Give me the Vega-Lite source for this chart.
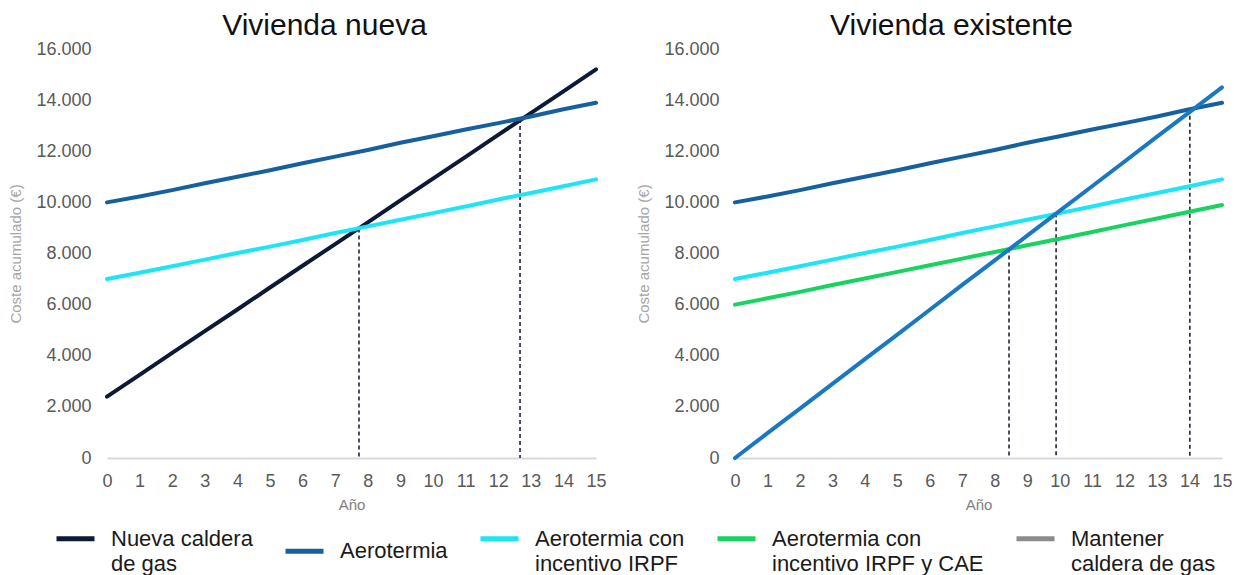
{
  "$schema": "https://vega.github.io/schema/vega-lite/v6.json",
  "background": "white",
  "padding": {"left": 8, "top": 11, "right": 5, "bottom": 0},
  "datasets": {
    "costes": [
      {"panel": "nueva", "series": "Nueva caldera de gas", "year": 0, "cost": 2400},
      {"panel": "nueva", "series": "Nueva caldera de gas", "year": 1, "cost": 3250},
      {"panel": "nueva", "series": "Nueva caldera de gas", "year": 2, "cost": 4110},
      {"panel": "nueva", "series": "Nueva caldera de gas", "year": 3, "cost": 4960},
      {"panel": "nueva", "series": "Nueva caldera de gas", "year": 4, "cost": 5810},
      {"panel": "nueva", "series": "Nueva caldera de gas", "year": 5, "cost": 6670},
      {"panel": "nueva", "series": "Nueva caldera de gas", "year": 6, "cost": 7520},
      {"panel": "nueva", "series": "Nueva caldera de gas", "year": 7, "cost": 8370},
      {"panel": "nueva", "series": "Nueva caldera de gas", "year": 8, "cost": 9220},
      {"panel": "nueva", "series": "Nueva caldera de gas", "year": 9, "cost": 10080},
      {"panel": "nueva", "series": "Nueva caldera de gas", "year": 10, "cost": 10930},
      {"panel": "nueva", "series": "Nueva caldera de gas", "year": 11, "cost": 11780},
      {"panel": "nueva", "series": "Nueva caldera de gas", "year": 12, "cost": 12640},
      {"panel": "nueva", "series": "Nueva caldera de gas", "year": 13, "cost": 13490},
      {"panel": "nueva", "series": "Nueva caldera de gas", "year": 14, "cost": 14340},
      {"panel": "nueva", "series": "Nueva caldera de gas", "year": 15, "cost": 15200},
      {"panel": "nueva", "series": "Aerotermia", "year": 0, "cost": 10000},
      {"panel": "nueva", "series": "Aerotermia", "year": 1, "cost": 10230},
      {"panel": "nueva", "series": "Aerotermia", "year": 2, "cost": 10480},
      {"panel": "nueva", "series": "Aerotermia", "year": 3, "cost": 10750},
      {"panel": "nueva", "series": "Aerotermia", "year": 4, "cost": 11000},
      {"panel": "nueva", "series": "Aerotermia", "year": 5, "cost": 11260},
      {"panel": "nueva", "series": "Aerotermia", "year": 6, "cost": 11530},
      {"panel": "nueva", "series": "Aerotermia", "year": 7, "cost": 11790},
      {"panel": "nueva", "series": "Aerotermia", "year": 8, "cost": 12050},
      {"panel": "nueva", "series": "Aerotermia", "year": 9, "cost": 12330},
      {"panel": "nueva", "series": "Aerotermia", "year": 10, "cost": 12590},
      {"panel": "nueva", "series": "Aerotermia", "year": 11, "cost": 12850},
      {"panel": "nueva", "series": "Aerotermia", "year": 12, "cost": 13100},
      {"panel": "nueva", "series": "Aerotermia", "year": 13, "cost": 13360},
      {"panel": "nueva", "series": "Aerotermia", "year": 14, "cost": 13640},
      {"panel": "nueva", "series": "Aerotermia", "year": 15, "cost": 13900},
      {"panel": "nueva", "series": "Aerotermia con incentivo IRPF", "year": 0, "cost": 7000},
      {"panel": "nueva", "series": "Aerotermia con incentivo IRPF", "year": 1, "cost": 7250},
      {"panel": "nueva", "series": "Aerotermia con incentivo IRPF", "year": 2, "cost": 7500},
      {"panel": "nueva", "series": "Aerotermia con incentivo IRPF", "year": 3, "cost": 7760},
      {"panel": "nueva", "series": "Aerotermia con incentivo IRPF", "year": 4, "cost": 8020},
      {"panel": "nueva", "series": "Aerotermia con incentivo IRPF", "year": 5, "cost": 8270},
      {"panel": "nueva", "series": "Aerotermia con incentivo IRPF", "year": 6, "cost": 8530},
      {"panel": "nueva", "series": "Aerotermia con incentivo IRPF", "year": 7, "cost": 8800},
      {"panel": "nueva", "series": "Aerotermia con incentivo IRPF", "year": 8, "cost": 9060},
      {"panel": "nueva", "series": "Aerotermia con incentivo IRPF", "year": 9, "cost": 9320},
      {"panel": "nueva", "series": "Aerotermia con incentivo IRPF", "year": 10, "cost": 9580},
      {"panel": "nueva", "series": "Aerotermia con incentivo IRPF", "year": 11, "cost": 9840},
      {"panel": "nueva", "series": "Aerotermia con incentivo IRPF", "year": 12, "cost": 10110},
      {"panel": "nueva", "series": "Aerotermia con incentivo IRPF", "year": 13, "cost": 10370},
      {"panel": "nueva", "series": "Aerotermia con incentivo IRPF", "year": 14, "cost": 10630},
      {"panel": "nueva", "series": "Aerotermia con incentivo IRPF", "year": 15, "cost": 10900},
      {"panel": "existente", "series": "Aerotermia", "year": 0, "cost": 10000},
      {"panel": "existente", "series": "Aerotermia", "year": 1, "cost": 10230},
      {"panel": "existente", "series": "Aerotermia", "year": 2, "cost": 10480},
      {"panel": "existente", "series": "Aerotermia", "year": 3, "cost": 10750},
      {"panel": "existente", "series": "Aerotermia", "year": 4, "cost": 11000},
      {"panel": "existente", "series": "Aerotermia", "year": 5, "cost": 11260},
      {"panel": "existente", "series": "Aerotermia", "year": 6, "cost": 11530},
      {"panel": "existente", "series": "Aerotermia", "year": 7, "cost": 11790},
      {"panel": "existente", "series": "Aerotermia", "year": 8, "cost": 12050},
      {"panel": "existente", "series": "Aerotermia", "year": 9, "cost": 12330},
      {"panel": "existente", "series": "Aerotermia", "year": 10, "cost": 12590},
      {"panel": "existente", "series": "Aerotermia", "year": 11, "cost": 12850},
      {"panel": "existente", "series": "Aerotermia", "year": 12, "cost": 13100},
      {"panel": "existente", "series": "Aerotermia", "year": 13, "cost": 13360},
      {"panel": "existente", "series": "Aerotermia", "year": 14, "cost": 13640},
      {"panel": "existente", "series": "Aerotermia", "year": 15, "cost": 13900},
      {"panel": "existente", "series": "Aerotermia con incentivo IRPF", "year": 0, "cost": 7000},
      {"panel": "existente", "series": "Aerotermia con incentivo IRPF", "year": 1, "cost": 7250},
      {"panel": "existente", "series": "Aerotermia con incentivo IRPF", "year": 2, "cost": 7500},
      {"panel": "existente", "series": "Aerotermia con incentivo IRPF", "year": 3, "cost": 7760},
      {"panel": "existente", "series": "Aerotermia con incentivo IRPF", "year": 4, "cost": 8020},
      {"panel": "existente", "series": "Aerotermia con incentivo IRPF", "year": 5, "cost": 8270},
      {"panel": "existente", "series": "Aerotermia con incentivo IRPF", "year": 6, "cost": 8530},
      {"panel": "existente", "series": "Aerotermia con incentivo IRPF", "year": 7, "cost": 8800},
      {"panel": "existente", "series": "Aerotermia con incentivo IRPF", "year": 8, "cost": 9060},
      {"panel": "existente", "series": "Aerotermia con incentivo IRPF", "year": 9, "cost": 9320},
      {"panel": "existente", "series": "Aerotermia con incentivo IRPF", "year": 10, "cost": 9580},
      {"panel": "existente", "series": "Aerotermia con incentivo IRPF", "year": 11, "cost": 9840},
      {"panel": "existente", "series": "Aerotermia con incentivo IRPF", "year": 12, "cost": 10110},
      {"panel": "existente", "series": "Aerotermia con incentivo IRPF", "year": 13, "cost": 10370},
      {"panel": "existente", "series": "Aerotermia con incentivo IRPF", "year": 14, "cost": 10630},
      {"panel": "existente", "series": "Aerotermia con incentivo IRPF", "year": 15, "cost": 10900},
      {"panel": "existente", "series": "Aerotermia con incentivo IRPF y CAE", "year": 0, "cost": 6000},
      {"panel": "existente", "series": "Aerotermia con incentivo IRPF y CAE", "year": 1, "cost": 6250},
      {"panel": "existente", "series": "Aerotermia con incentivo IRPF y CAE", "year": 2, "cost": 6500},
      {"panel": "existente", "series": "Aerotermia con incentivo IRPF y CAE", "year": 3, "cost": 6770},
      {"panel": "existente", "series": "Aerotermia con incentivo IRPF y CAE", "year": 4, "cost": 7020},
      {"panel": "existente", "series": "Aerotermia con incentivo IRPF y CAE", "year": 5, "cost": 7280},
      {"panel": "existente", "series": "Aerotermia con incentivo IRPF y CAE", "year": 6, "cost": 7540},
      {"panel": "existente", "series": "Aerotermia con incentivo IRPF y CAE", "year": 7, "cost": 7800},
      {"panel": "existente", "series": "Aerotermia con incentivo IRPF y CAE", "year": 8, "cost": 8060},
      {"panel": "existente", "series": "Aerotermia con incentivo IRPF y CAE", "year": 9, "cost": 8320},
      {"panel": "existente", "series": "Aerotermia con incentivo IRPF y CAE", "year": 10, "cost": 8580},
      {"panel": "existente", "series": "Aerotermia con incentivo IRPF y CAE", "year": 11, "cost": 8840},
      {"panel": "existente", "series": "Aerotermia con incentivo IRPF y CAE", "year": 12, "cost": 9110},
      {"panel": "existente", "series": "Aerotermia con incentivo IRPF y CAE", "year": 13, "cost": 9370},
      {"panel": "existente", "series": "Aerotermia con incentivo IRPF y CAE", "year": 14, "cost": 9630},
      {"panel": "existente", "series": "Aerotermia con incentivo IRPF y CAE", "year": 15, "cost": 9900},
      {"panel": "existente", "series": "Mantener caldera de gas", "year": 0, "cost": 0},
      {"panel": "existente", "series": "Mantener caldera de gas", "year": 1, "cost": 970},
      {"panel": "existente", "series": "Mantener caldera de gas", "year": 2, "cost": 1930},
      {"panel": "existente", "series": "Mantener caldera de gas", "year": 3, "cost": 2900},
      {"panel": "existente", "series": "Mantener caldera de gas", "year": 4, "cost": 3870},
      {"panel": "existente", "series": "Mantener caldera de gas", "year": 5, "cost": 4830},
      {"panel": "existente", "series": "Mantener caldera de gas", "year": 6, "cost": 5800},
      {"panel": "existente", "series": "Mantener caldera de gas", "year": 7, "cost": 6770},
      {"panel": "existente", "series": "Mantener caldera de gas", "year": 8, "cost": 7730},
      {"panel": "existente", "series": "Mantener caldera de gas", "year": 9, "cost": 8700},
      {"panel": "existente", "series": "Mantener caldera de gas", "year": 10, "cost": 9670},
      {"panel": "existente", "series": "Mantener caldera de gas", "year": 11, "cost": 10630},
      {"panel": "existente", "series": "Mantener caldera de gas", "year": 12, "cost": 11600},
      {"panel": "existente", "series": "Mantener caldera de gas", "year": 13, "cost": 12570},
      {"panel": "existente", "series": "Mantener caldera de gas", "year": 14, "cost": 13530},
      {"panel": "existente", "series": "Mantener caldera de gas", "year": 15, "cost": 14500}
    ],
    "cruces": [
      {"panel": "nueva", "year": 7.73, "cost": 8980},
      {"panel": "nueva", "year": 12.67, "cost": 13260},
      {"panel": "existente", "year": 8.44, "cost": 8200},
      {"panel": "existente", "year": 9.89, "cost": 9570},
      {"panel": "existente", "year": 14.01, "cost": 13660}
    ]
  },
  "hconcat": [
    {
      "width": 489,
      "height": 409,
      "title": {"text": "Vivienda nueva"},
      "encoding": {
        "x": {"field": "year", "type": "quantitative", "title": "Año",
              "scale": {"domain": [0, 15], "nice": false},
              "axis": {"values": [0, 1, 2, 3, 4, 5, 6, 7, 8, 9, 10, 11, 12, 13, 14, 15], "format": "d"}},
        "y": {"field": "cost", "type": "quantitative", "title": "Coste acumulado (€)",
              "scale": {"domain": [0, 16000], "nice": false},
              "axis": {"values": [0, 2000, 4000, 6000, 8000, 10000, 12000, 14000, 16000],
                       "labelExpr": "replace(format(datum.value, ','), ',', '.')"}}
      },
      "layer": [
        {
          "data": {"name": "cruces"},
          "transform": [{"filter": "datum.panel === 'nueva'"}],
          "mark": {"type": "rule", "color": "#1c2640", "strokeWidth": 1.6, "strokeDash": [4, 3]},
          "encoding": {"y2": {"datum": 0}}
        },
        {
          "data": {"name": "costes"},
          "transform": [{"filter": "datum.panel === 'nueva'"}],
          "mark": {"type": "line", "strokeWidth": 4, "strokeCap": "round"},
          "encoding": {
            "color": {"field": "series", "type": "nominal",
                      "scale": {"domain": ["Nueva caldera de gas", "Aerotermia", "Aerotermia con incentivo IRPF", "Aerotermia con incentivo IRPF y CAE", "Mantener caldera de gas"],
                                "range": ["#0c1a36", "#17609f", "#1ee5f5", "#17d35f", "#8c8c8c"]},
                      "legend": {
                        "orient": "none",
                        "legendX": -53,
                        "legendY": 468,
                        "direction": "horizontal",
                        "columns": 5,
                        "labelExpr": "datum.label === 'Nueva caldera de gas' ? ['Nueva caldera', 'de gas'] : datum.label === 'Aerotermia con incentivo IRPF' ? ['Aerotermia con', 'incentivo IRPF'] : datum.label === 'Aerotermia con incentivo IRPF y CAE' ? ['Aerotermia con', 'incentivo IRPF y CAE'] : datum.label === 'Mantener caldera de gas' ? ['Mantener', 'caldera de gas'] : datum.label"
                      }}
          }
        }
      ]
    },
    {
      "width": 487,
      "height": 409,
      "title": {"text": "Vivienda existente"},
      "encoding": {
        "x": {"field": "year", "type": "quantitative", "title": "Año",
              "scale": {"domain": [0, 15], "nice": false},
              "axis": {"values": [0, 1, 2, 3, 4, 5, 6, 7, 8, 9, 10, 11, 12, 13, 14, 15], "format": "d"}},
        "y": {"field": "cost", "type": "quantitative", "title": "Coste acumulado (€)",
              "scale": {"domain": [0, 16000], "nice": false},
              "axis": {"values": [0, 2000, 4000, 6000, 8000, 10000, 12000, 14000, 16000],
                       "labelExpr": "replace(format(datum.value, ','), ',', '.')"}}
      },
      "layer": [
        {
          "data": {"name": "cruces"},
          "transform": [{"filter": "datum.panel === 'existente'"}],
          "mark": {"type": "rule", "color": "#1c2640", "strokeWidth": 1.6, "strokeDash": [4, 3]},
          "encoding": {"y2": {"datum": 0}}
        },
        {
          "data": {"name": "costes"},
          "transform": [{"filter": "datum.panel === 'existente' && datum.series !== 'Mantener caldera de gas'"}],
          "mark": {"type": "line", "strokeWidth": 4, "strokeCap": "round"},
          "encoding": {
            "color": {"field": "series", "type": "nominal",
                      "scale": {"domain": ["Nueva caldera de gas", "Aerotermia", "Aerotermia con incentivo IRPF", "Aerotermia con incentivo IRPF y CAE", "Mantener caldera de gas"],
                                "range": ["#0c1a36", "#17609f", "#1ee5f5", "#17d35f", "#8c8c8c"]}}
          }
        },
        {
          "data": {"name": "costes"},
          "transform": [{"filter": "datum.panel === 'existente' && datum.series === 'Mantener caldera de gas'"}],
          "mark": {"type": "line", "strokeWidth": 4, "strokeCap": "round", "color": "#1a78c3"},
          "encoding": {}
        }
      ]
    }
  ],
  "spacing": 29,
  "resolve": {"scale": {"color": "shared"}},
  "config": {
    "font": "Liberation Sans",
    "view": {"stroke": null},
    "style": {"guide-label": {"lineHeight": 25}},
    "title": {"fontSize": 30, "fontWeight": "normal", "color": "#111111", "dx": -27, "offset": -1, "anchor": "middle"},
    "axis": {"grid": false, "ticks": false, "labelFont": "Liberation Sans", "titleFont": "Liberation Sans", "titleFontWeight": "normal"},
    "axisX": {"domainColor": "#d9d9d9", "domainWidth": 2, "labelFontSize": 18, "labelColor": "#595959", "labelPadding": 14, "titleFontSize": 15, "titleColor": "#808080", "titlePadding": 7, "labelFlush": false},
    "axisY": {"domain": false, "labelFontSize": 18, "labelColor": "#595959", "labelPadding": 16, "titleFontSize": 15, "titleColor": "#a6a6a6", "titlePadding": 12},
    "legend": {
      "padding": 0,
      "title": null,
      "symbolType": "stroke",
      "symbolSize": 1444,
      "symbolStrokeWidth": 5,
      "labelFont": "Liberation Sans",
      "labelFontSize": 22,
      "labelColor": "#1a1a1a",
      "labelOffset": 14,
      "labelLimit": 400,
      "columnPadding": 22
    }
  }
}
